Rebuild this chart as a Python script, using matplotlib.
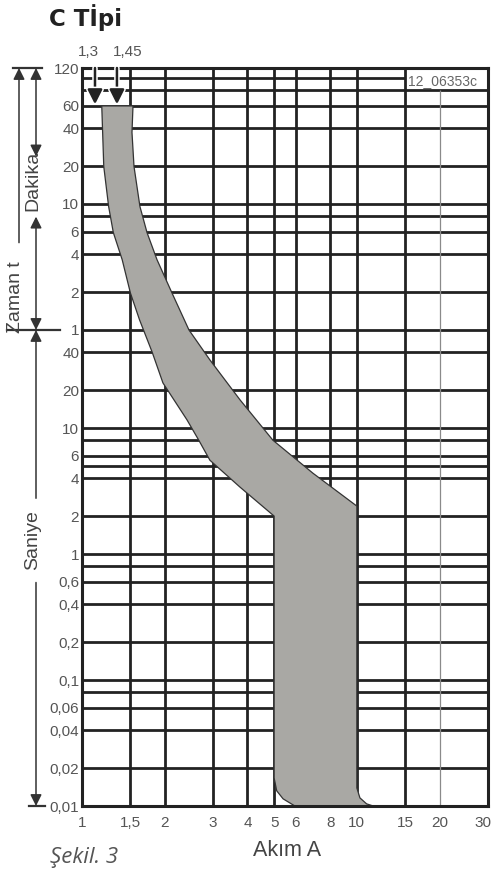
import matplotlib
matplotlib.use('Agg')
import matplotlib.pyplot as plt
import matplotlib.patheffects as pe
from matplotlib.transforms import blended_transform_factory, ScaledTranslation

plt.rcParams['font.family'] = ['Liberation Sans', 'DejaVu Sans']

W, H = 493, 872

# ticks (x = multiple of rated current, y = time in seconds)
x_ticks = [1, 1.5, 2, 3, 4, 5, 6, 8, 10, 15, 20, 30]
x_labels = ['1', '1,5', '2', '3', '4', '5', '6', '8', '10', '15', '20', '30']
y_ticks = [7200, 3600, 2400, 1200, 600, 360, 240, 120, 60,
           40, 20, 10, 6, 4, 2, 1, 0.6, 0.4, 0.2, 0.1, 0.06, 0.04, 0.02, 0.01]
y_labels = ['120', '60', '40', '20', '10', '6', '4', '2', '1',
            '40', '20', '10', '6', '4', '2', '1', '0,6', '0,4', '0,2', '0,1',
            '0,06', '0,04', '0,02', '0,01']

# grid lines
h_grid = [4800, 3600, 2400, 1200, 600, 480, 360, 240, 120, 60, 40, 20, 10, 8, 6, 5, 4,
          2, 1, 0.8, 0.6, 0.4, 0.2, 0.1, 0.08, 0.06, 0.04, 0.02]
h_grid_short = [6000]          # stops at 15 (label box)
v_grid = [1.5, 2, 3, 4, 5, 6, 8, 10, 15]
v_grid_thin = [20]

# tripping band
left_x = [1.18, 1.20, 1.25, 1.30, 1.40, 1.50, 1.62, 1.80, 1.97, 2.41, 2.66, 2.92, 3.76, 5.0,
          5.0, 5.11, 5.39, 5.95]
left_t = [3600, 1190, 572, 356, 217, 118, 72, 40, 22.8, 11.6, 8.0, 5.55, 3.39, 2.0,
          0.0167, 0.0132, 0.0114, 0.01]
right_x = [11.47, 10.85, 10.26, 10.0, 10.0, 6.92, 6.06, 4.95, 3.76, 2.92, 2.45,
           2.125, 1.874, 1.724, 1.625, 1.546, 1.52, 1.533]
right_t = [0.01, 0.0104, 0.0116, 0.0139, 2.4, 4.38, 5.56, 8.0, 16.7, 34.7, 60,
           118, 217, 356, 572, 1190, 2218, 3600]

arrow_x = [1.115, 1.34]

fig = plt.figure(figsize=(W / 100, H / 100), dpi=100)
ax = fig.add_axes([82 / W, 1 - 806 / H, (488 - 82) / W, (806 - 68) / H])
ax.set_xscale('log')
ax.set_yscale('log')
ax.set_xlim(1, 30)
ax.set_ylim(0.01, 7200)

gc = '#222222'
for t in h_grid:
    ax.axhline(t, color=gc, lw=2.0, zorder=2)
for t in h_grid_short:
    ax.hlines(t, 1, 15, color=gc, lw=2.0, zorder=2)
for x in v_grid:
    ax.axvline(x, color=gc, lw=2.0, zorder=2)
for x in v_grid_thin:
    ax.vlines(x, 0.01, 4800, color='#8a8a8a', lw=0.9, zorder=2)

band_x = left_x + right_x
band_t = left_t + right_t
ax.fill(band_x, band_t, facecolor='#a9a8a4', edgecolor='#333333', lw=0.9, zorder=2.4)

for s in ax.spines.values():
    s.set_linewidth(2.2)
    s.set_color(gc)
    s.set_zorder(2.5)

ax.minorticks_off()
ax.set_xticks(x_ticks, x_labels)
ax.set_yticks(y_ticks, y_labels)
ax.tick_params(length=0, labelsize=11, labelcolor='#555555')
ax.tick_params(axis='x', pad=7)
ax.tick_params(axis='y', pad=2)
last = ax.get_xticklabels()[-1]
last.set_horizontalalignment('right')
last.set_transform(last.get_transform() + ScaledTranslation(3 / 100, 0, fig.dpi_scale_trans))

# arrows at 1,3 and 1,45
for xa in arrow_x:
    a = ax.annotate('', xy=(xa, 3700), xytext=(xa, 7200),
                    arrowprops=dict(arrowstyle='-|>', color=gc, lw=1.8,
                                    mutation_scale=22, shrinkA=0, shrinkB=0),
                    zorder=4)
    a.arrow_patch.set_path_effects([pe.withStroke(linewidth=4, foreground='white')])

fig.text(88 / W, 1 - 52 / H, '1,3', ha='center', va='center', fontsize=11, color='#555555')
fig.text(128 / W, 1 - 52 / H, '1,45', ha='center', va='center', fontsize=11, color='#555555')
ax.text(15.3, 5700, '12_06353c', ha='left', va='center', fontsize=10, color='#666666', zorder=5)

# dimension lines on the left
tr = blended_transform_factory(fig.transFigure, ax.transData)
lc = '#333333'


def dim(px, t_from, t_to, style):
    ax.annotate('', xy=(px / W, t_to), xytext=(px / W, t_from), xycoords=tr, textcoords=tr,
                arrowprops=dict(arrowstyle=style, color=lc, lw=1.1, mutation_scale=17,
                                shrinkA=0, shrinkB=0),
                annotation_clip=False)


def bar(px0, px1, t):
    ax.plot([px0 / W, px1 / W], [t, t], transform=tr, color=lc, lw=1.6, clip_on=False)


bar(13, 42, 7200)
bar(7, 60, 60)
bar(29, 45, 0.01)
dim(19, 296, 7200, '-|>')
dim(36, 1430, 7200, '<|-|>')
dim(36, 476, 60, '<|-|>')
dim(36, 2.77, 60, '-|>')
dim(36, 0.594, 0.01, '-|>')

ax.text(15 / W, 110, 'Zaman t', transform=tr, rotation=90, ha='center', va='center',
        fontsize=14, color='#444444')
ax.text(33 / W, 920, 'Dakika', transform=tr, rotation=90, ha='center', va='center',
        fontsize=14, color='#444444')
ax.text(33 / W, 1.28, 'Saniye', transform=tr, rotation=90, ha='center', va='center',
        fontsize=14, color='#444444')

fig.text(49 / W, 1 - 26 / H, 'C Tİpi', ha='left', va='baseline', fontsize=16.5,
         fontweight='bold', family='DejaVu Sans', color='#222222')
fig.text(287 / W, 1 - 850 / H, 'Akım A', ha='center', va='center', fontsize=15.5,
         color='#444444')
fig.text(50 / W, 1 - 857 / H, 'Şekil. 3', ha='left', va='center', fontsize=16,
         style='italic', family=['Open Sans', 'DejaVu Sans'], color='#555555')

fig.savefig('out.png', dpi=100)
